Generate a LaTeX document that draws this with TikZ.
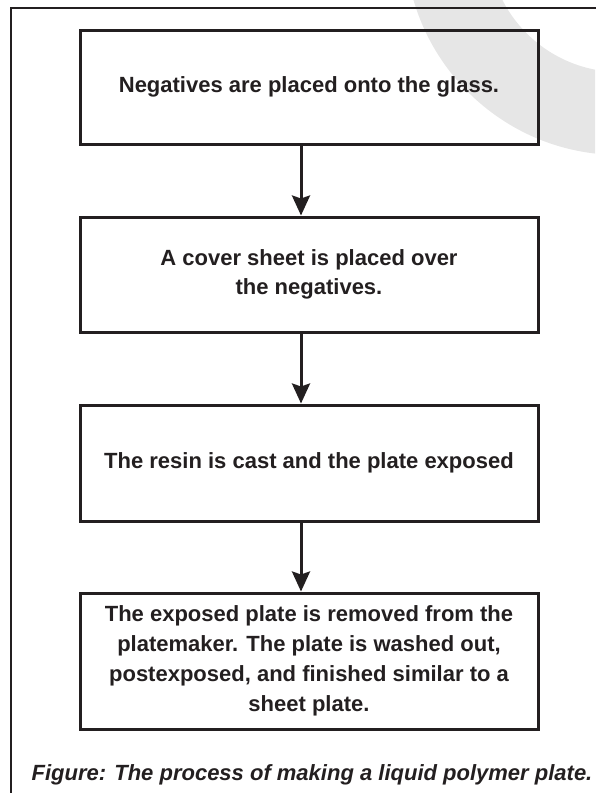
\documentclass[tikz,border=0pt]{standalone}
\usepackage{fontspec}
\setmainfont{Liberation Sans}
\usetikzlibrary{arrows.meta}
\definecolor{ink}{HTML}{231F20}
\definecolor{shade}{HTML}{E6E6E6}
\tikzset{
  stepbox/.style={draw=ink, line width=3pt, minimum width=458pt, inner sep=0pt,
    align=center, text=ink, font=\fontsize{22}{30}\selectfont\bfseries},
  flow/.style={draw=ink, line width=3pt,
    -{Stealth[length=20pt, width=18pt, inset=3pt]}},
  frame/.style={draw=ink, line width=2pt},
  mark shade/.style={fill=shade, even odd rule}
}
\begin{document}
\begin{tikzpicture}[x=1pt, y=-1pt]
  \useasboundingbox (0,0) rectangle (595,793);
  % light background emblem
  \begin{scope}
    \clip (0,0) rectangle (595,793);
    \fill[mark shade] (620,-60) circle (215) (620,-60) circle (132);
  \end{scope}
  % outer frame, only its top and left edges fall on the page
  \draw[frame] (10.7,800) -- (10.7,8) -- (600,8);

  \node[stepbox, minimum height=114pt] (s1) at (309,87)
    {Negatives are placed onto the glass.};
  \node[stepbox, minimum height=115pt,
        font=\fontsize{22}{29}\selectfont\bfseries] (s2) at (309,274.5)
    {A cover sheet is placed over\\the negatives.};
  \node[stepbox, minimum height=116pt] (s3) at (309,463)
    {The resin is cast and the plate exposed};
  \node[stepbox, minimum height=136pt] (s4) at (309,661)
    {The exposed plate is removed from the\\platemaker. The plate is washed out,\\postexposed, and finished similar to a\\sheet plate.};

  \coordinate (ax) at (301,0);
  \draw[flow] (s1.south -| ax) -- (s2.north -| ax);
  \draw[flow] (s2.south -| ax) -- (s3.north -| ax);
  \draw[flow] (s3.south -| ax) -- (s4.north -| ax);

  \node[anchor=base, text=ink, font=\fontsize{22}{26}\selectfont\bfseries\itshape]
    (cap) at (312,780) {Figure: The process of making a liquid polymer plate.};
\end{tikzpicture}
\end{document}
